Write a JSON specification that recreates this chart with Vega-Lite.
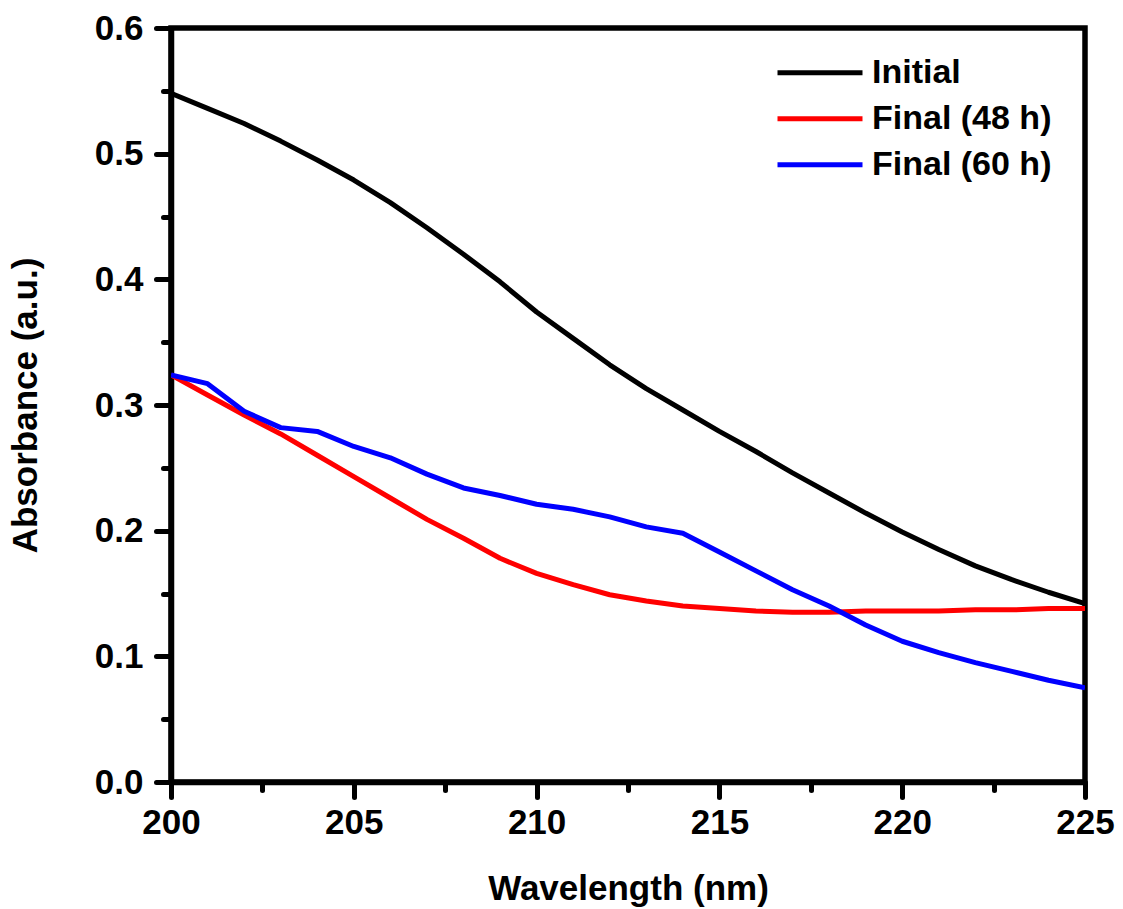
{
  "$schema": "https://vega.github.io/schema/vega-lite/v6.json",
  "autosize": "none",
  "width": 914,
  "height": 754,
  "padding": {"left": 171, "top": 28, "right": 38, "bottom": 127},
  "background": "white",
  "config": {
    "view": {"stroke": "black", "strokeWidth": 5.5},
    "font": "Liberation Sans"
  },
  "data": {"values": [
    {"s": "Initial", "w": 200, "a": 0.548}, {"s": "Initial", "w": 201, "a": 0.536}, {"s": "Initial", "w": 202, "a": 0.524},
    {"s": "Initial", "w": 203, "a": 0.510}, {"s": "Initial", "w": 204, "a": 0.495}, {"s": "Initial", "w": 205, "a": 0.479},
    {"s": "Initial", "w": 206, "a": 0.461}, {"s": "Initial", "w": 207, "a": 0.441}, {"s": "Initial", "w": 208, "a": 0.420},
    {"s": "Initial", "w": 209, "a": 0.398}, {"s": "Initial", "w": 210, "a": 0.374}, {"s": "Initial", "w": 211, "a": 0.353},
    {"s": "Initial", "w": 212, "a": 0.332}, {"s": "Initial", "w": 213, "a": 0.313}, {"s": "Initial", "w": 214, "a": 0.296},
    {"s": "Initial", "w": 215, "a": 0.279}, {"s": "Initial", "w": 216, "a": 0.263}, {"s": "Initial", "w": 217, "a": 0.246},
    {"s": "Initial", "w": 218, "a": 0.230}, {"s": "Initial", "w": 219, "a": 0.214}, {"s": "Initial", "w": 220, "a": 0.199},
    {"s": "Initial", "w": 221, "a": 0.185}, {"s": "Initial", "w": 222, "a": 0.172}, {"s": "Initial", "w": 223, "a": 0.161},
    {"s": "Initial", "w": 224, "a": 0.151}, {"s": "Initial", "w": 225, "a": 0.142},
    {"s": "Final (48 h)", "w": 200, "a": 0.324}, {"s": "Final (48 h)", "w": 201, "a": 0.308}, {"s": "Final (48 h)", "w": 202, "a": 0.292},
    {"s": "Final (48 h)", "w": 203, "a": 0.277}, {"s": "Final (48 h)", "w": 204, "a": 0.260}, {"s": "Final (48 h)", "w": 205, "a": 0.243},
    {"s": "Final (48 h)", "w": 206, "a": 0.226}, {"s": "Final (48 h)", "w": 207, "a": 0.209}, {"s": "Final (48 h)", "w": 208, "a": 0.194},
    {"s": "Final (48 h)", "w": 209, "a": 0.178}, {"s": "Final (48 h)", "w": 210, "a": 0.166}, {"s": "Final (48 h)", "w": 211, "a": 0.157},
    {"s": "Final (48 h)", "w": 212, "a": 0.149}, {"s": "Final (48 h)", "w": 213, "a": 0.144}, {"s": "Final (48 h)", "w": 214, "a": 0.140},
    {"s": "Final (48 h)", "w": 215, "a": 0.138}, {"s": "Final (48 h)", "w": 216, "a": 0.136}, {"s": "Final (48 h)", "w": 217, "a": 0.135},
    {"s": "Final (48 h)", "w": 218, "a": 0.135}, {"s": "Final (48 h)", "w": 219, "a": 0.136}, {"s": "Final (48 h)", "w": 220, "a": 0.136},
    {"s": "Final (48 h)", "w": 221, "a": 0.136}, {"s": "Final (48 h)", "w": 222, "a": 0.137}, {"s": "Final (48 h)", "w": 223, "a": 0.137},
    {"s": "Final (48 h)", "w": 224, "a": 0.138}, {"s": "Final (48 h)", "w": 225, "a": 0.138},
    {"s": "Final (60 h)", "w": 200, "a": 0.324}, {"s": "Final (60 h)", "w": 201, "a": 0.317}, {"s": "Final (60 h)", "w": 202, "a": 0.295},
    {"s": "Final (60 h)", "w": 203, "a": 0.282}, {"s": "Final (60 h)", "w": 204, "a": 0.279}, {"s": "Final (60 h)", "w": 205, "a": 0.267},
    {"s": "Final (60 h)", "w": 206, "a": 0.258}, {"s": "Final (60 h)", "w": 207, "a": 0.245}, {"s": "Final (60 h)", "w": 208, "a": 0.234},
    {"s": "Final (60 h)", "w": 209, "a": 0.228}, {"s": "Final (60 h)", "w": 210, "a": 0.221}, {"s": "Final (60 h)", "w": 211, "a": 0.217},
    {"s": "Final (60 h)", "w": 212, "a": 0.211}, {"s": "Final (60 h)", "w": 213, "a": 0.203}, {"s": "Final (60 h)", "w": 214, "a": 0.198},
    {"s": "Final (60 h)", "w": 215, "a": 0.183}, {"s": "Final (60 h)", "w": 216, "a": 0.168}, {"s": "Final (60 h)", "w": 217, "a": 0.153},
    {"s": "Final (60 h)", "w": 218, "a": 0.140}, {"s": "Final (60 h)", "w": 219, "a": 0.125}, {"s": "Final (60 h)", "w": 220, "a": 0.112},
    {"s": "Final (60 h)", "w": 221, "a": 0.103}, {"s": "Final (60 h)", "w": 222, "a": 0.095}, {"s": "Final (60 h)", "w": 223, "a": 0.088},
    {"s": "Final (60 h)", "w": 224, "a": 0.081}, {"s": "Final (60 h)", "w": 225, "a": 0.075}
  ]},
  "mark": {"type": "line", "strokeWidth": 5, "strokeJoin": "round", "clip": true},
  "encoding": {
    "x": {
      "field": "w", "type": "quantitative",
      "scale": {"domain": [200, 225], "nice": false, "zero": false},
      "axis": {
        "title": "Wavelength (nm)",
        "titleFont": "Liberation Sans", "titleFontSize": 35, "titleFontWeight": "bold", "titleColor": "black",
        "titlePadding": 31,
        "values": [200, 202.5, 205, 207.5, 210, 212.5, 215, 217.5, 220, 222.5, 225],
        "format": "d",
        "labelExpr": "datum.value % 5 === 0 ? datum.label : ''",
        "labelFont": "Liberation Sans", "labelFontSize": 35, "labelFontWeight": "bold", "labelColor": "black",
        "labelPadding": 8, "labelFlush": false, "labelOverlap": false,
        "grid": false,
        "domainColor": "black", "domainWidth": 5.5,
        "tickColor": "black", "tickWidth": 5, "tickCap": "round",
        "tickSize": {"condition": {"test": "datum.value % 5 === 0", "value": 15}, "value": 8}
      }
    },
    "y": {
      "field": "a", "type": "quantitative",
      "scale": {"domain": [0, 0.6], "nice": false},
      "axis": {
        "title": "Absorbance (a.u.)",
        "titleFont": "Liberation Sans", "titleFontSize": 35, "titleFontWeight": "bold", "titleColor": "black",
        "titlePadding": 51,
        "values": [0, 0.05, 0.1, 0.15, 0.2, 0.25, 0.3, 0.35, 0.4, 0.45, 0.5, 0.55, 0.6],
        "format": ".1f",
        "labelExpr": "round(datum.value * 100) % 10 === 0 ? datum.label : ''",
        "labelFont": "Liberation Sans", "labelFontSize": 35, "labelFontWeight": "bold", "labelColor": "black",
        "labelPadding": 13, "labelFlush": false, "labelOverlap": false,
        "grid": false,
        "domainColor": "black", "domainWidth": 5.5,
        "tickColor": "black", "tickWidth": 5, "tickCap": "round",
        "tickSize": {"condition": {"test": "round(datum.value * 100) % 10 === 0", "value": 15}, "value": 8}
      }
    },
    "color": {
      "field": "s", "type": "nominal",
      "scale": {"domain": ["Initial", "Final (48 h)", "Final (60 h)"], "range": ["#000000", "#ff0000", "#0000ff"]},
      "legend": {
        "title": null,
        "orient": "none",
        "legendX": 604,
        "legendY": 22,
        "symbolType": "stroke",
        "symbolSize": 7225,
        "symbolStrokeWidth": 5,
        "clipHeight": 45.5,
        "rowPadding": 0,
        "labelOffset": 7,
        "labelLimit": 0,
        "labelFont": "Liberation Sans", "labelFontSize": 34, "labelFontWeight": "bold", "labelColor": "black",
        "padding": 0
      }
    }
  }
}
